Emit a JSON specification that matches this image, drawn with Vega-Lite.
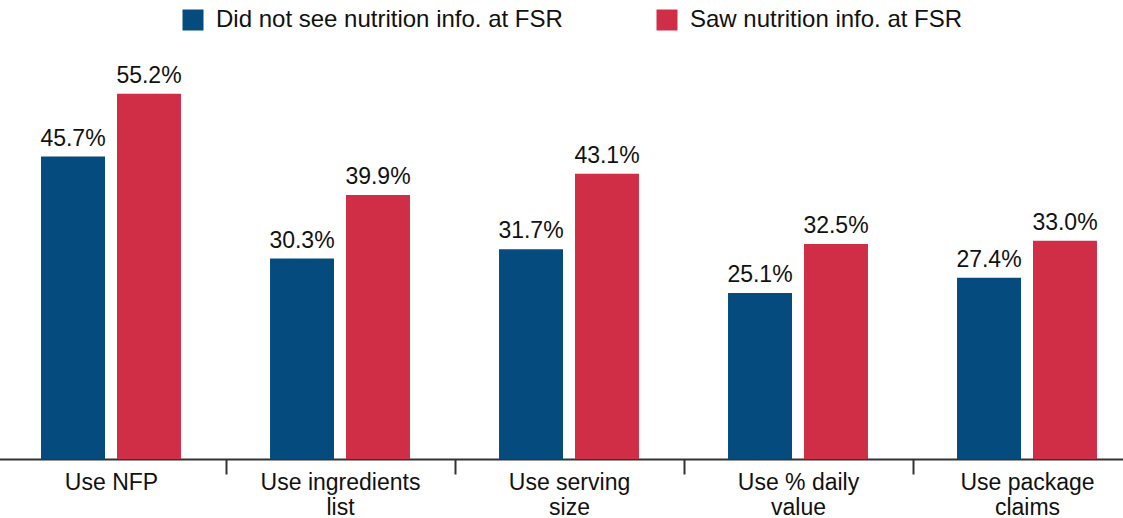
{
  "$schema": "https://vega.github.io/schema/vega-lite/v6.json",
  "width": 1111,
  "height": 397,
  "autosize": {"type": "none"},
  "padding": {"left": 12, "top": 62, "right": 0, "bottom": 59},
  "background": "white",
  "config": {"view": {"stroke": null}, "font": "Liberation Sans"},
  "data": {
    "values": [
      {"measure": "Use NFP", "group": "Did not see nutrition info. at FSR", "share": 0.457},
      {"measure": "Use NFP", "group": "Saw nutrition info. at FSR", "share": 0.552},
      {"measure": "Use ingredients\nlist", "group": "Did not see nutrition info. at FSR", "share": 0.303},
      {"measure": "Use ingredients\nlist", "group": "Saw nutrition info. at FSR", "share": 0.399},
      {"measure": "Use serving\nsize", "group": "Did not see nutrition info. at FSR", "share": 0.317},
      {"measure": "Use serving\nsize", "group": "Saw nutrition info. at FSR", "share": 0.431},
      {"measure": "Use % daily\nvalue", "group": "Did not see nutrition info. at FSR", "share": 0.251},
      {"measure": "Use % daily\nvalue", "group": "Saw nutrition info. at FSR", "share": 0.325},
      {"measure": "Use package\nclaims", "group": "Did not see nutrition info. at FSR", "share": 0.274},
      {"measure": "Use package\nclaims", "group": "Saw nutrition info. at FSR", "share": 0.330}
    ]
  },
  "encoding": {
    "x": {
      "field": "measure",
      "type": "nominal",
      "sort": null,
      "scale": {"range": [-15.5, 1129.5], "paddingInner": 0, "paddingOuter": 0},
      "axis": {
        "title": null,
        "labelAngle": 0,
        "labelExpr": "split(datum.label, '\\n')",
        "labelFontSize": 23,
        "labelColor": "#111",
        "labelBaseline": "top",
        "labelLineHeight": 25,
        "labelPadding": -3,
        "labelLimit": 300,
        "tickBand": "extent",
        "tickSize": 15,
        "tickWidth": 2,
        "tickColor": "#333",
        "domainColor": "#333",
        "domainWidth": 2,
        "grid": false
      }
    },
    "xOffset": {
      "field": "group",
      "type": "nominal",
      "sort": ["Did not see nutrition info. at FSR", "Saw nutrition info. at FSR"],
      "scale": {"paddingInner": 0.158, "paddingOuter": 0.586}
    },
    "y": {
      "field": "share",
      "type": "quantitative",
      "scale": {"domain": [0, 0.6], "nice": false, "zero": true},
      "axis": null
    }
  },
  "layer": [
    {
      "mark": {"type": "bar"},
      "encoding": {
        "color": {
          "field": "group",
          "type": "nominal",
          "sort": ["Did not see nutrition info. at FSR", "Saw nutrition info. at FSR"],
          "scale": {
            "domain": ["Did not see nutrition info. at FSR", "Saw nutrition info. at FSR"],
            "range": ["#054b7d", "#cf2e46"]
          },
          "legend": {
            "title": null,
            "orient": "none",
            "legendX": 169,
            "legendY": -54,
            "direction": "horizontal",
            "symbolType": "square",
            "symbolSize": 441,
            "symbolStrokeWidth": 0,
            "symbolOpacity": 1,
            "labelFontSize": 24,
            "labelOffset": 11,
            "labelColor": "#111",
            "columnPadding": 92,
            "padding": 0,
            "labelLimit": 500
          }
        }
      }
    },
    {
      "mark": {"type": "text", "dy": -11, "baseline": "alphabetic", "fontSize": 23, "color": "#111"},
      "encoding": {
        "text": {"field": "share", "type": "quantitative", "format": ".1%"}
      }
    }
  ]
}
